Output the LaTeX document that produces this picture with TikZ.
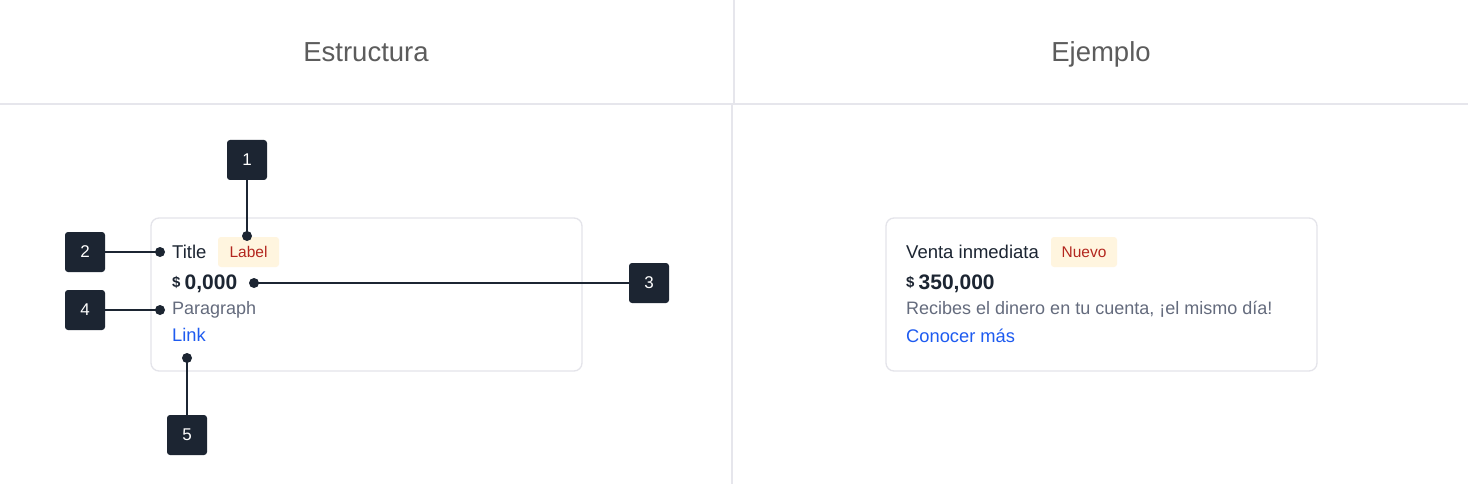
\documentclass[tikz,border=0pt]{standalone}
\usepackage{fontspec}
\setmainfont{Liberation Sans}
\definecolor{divider}{HTML}{E6E6EC}
\definecolor{cardline}{HTML}{E4E4EA}
\definecolor{head}{HTML}{5C5C5C}
\definecolor{ink}{HTML}{1C2532}
\definecolor{para}{HTML}{646B7D}
\definecolor{linkc}{HTML}{1E5BF0}
\definecolor{badgefill}{HTML}{FFF5DF}
\definecolor{badgetext}{HTML}{B3261E}
\begin{document}
\begin{tikzpicture}[x=1pt,y=-1pt,
  divline/.style={draw=divider,line width=2pt},
  card/.style={draw=cardline,line width=1.3pt,rounded corners=8pt},
  header/.style={font=\fontsize{27.5}{32}\selectfont,text=head,inner sep=0pt,anchor=base},
  ttl/.style={font=\fontsize{18.5}{22}\selectfont,text=ink,anchor=base west,inner sep=0pt},
  badge/.style={fill=badgefill,rounded corners=3pt,text=badgetext,font=\fontsize{15.5}{18}\selectfont,minimum height=30pt,inner xsep=0pt,inner ysep=0pt},
  dollar/.style={font=\fontsize{15}{17}\selectfont\bfseries,text=ink,anchor=base west,inner sep=0pt},
  amount/.style={font=\fontsize{21}{24}\selectfont\bfseries,text=ink,anchor=base west,inner sep=0pt},
  para/.style={font=\fontsize{18}{22}\selectfont,text=para,anchor=base west,inner sep=0pt},
  lnk/.style={font=\fontsize{18.3}{22}\selectfont,text=linkc,anchor=base west,inner sep=0pt},
  marker/.style={fill=ink,rounded corners=3pt,minimum width=40pt,minimum height=40pt,text=white,font=\fontsize{17}{20}\selectfont,inner sep=0pt},
  dot/.style={circle,fill=ink,minimum size=10pt,inner sep=0pt},
  conn/.style={draw=ink,line width=1.6pt}]
\useasboundingbox (0,0) rectangle (1468,484);
\fill[white] (0,0) rectangle (1468,484);
% dividers
\coordinate (vt0) at (734,0);
\coordinate (vt1) at (734,104);
\coordinate (hl0) at (0,104);
\coordinate (hl1) at (1468,104);
\coordinate (vb0) at (732,104);
\coordinate (vb1) at (732,484);
\draw[divline] (vt0) -- (vt1);
\draw[divline] (hl0) -- (hl1);
\draw[divline] (vb0) -- (vb1);
% headers
\node[header] (h1) at (366,62) {Estructura};
\node[header] (h2) at (1101,62) {Ejemplo};
% left card
\draw[card] (151,218) rectangle (582,371);
\node[ttl] (t1) at (172,258) {Title};
\node[badge,minimum width=61pt] (b1) at (248.5,252) {Label};
\node[dollar] (s1) at (172,287) {\$};
\node[amount] (a1) at (184.5,289) {0,000};
\node[para] (p1) at (172,314) {Paragraph};
\node[lnk] (l1) at (172,341) {Link};
% right card
\draw[card] (886,218) rectangle (1317,371);
\node[ttl] (t2) at (906,258) {Venta inmediata};
\node[badge,minimum width=66pt] (b2) at (1084,252) {Nuevo};
\node[dollar] (s2) at (906,287) {\$};
\node[amount] (a2) at (918.5,289) {350,000};
\node[para] (p2) at (906,314) {Recibes el dinero en tu cuenta, ¡el mismo día!};
\node[lnk] (l2) at (906,342) {Conocer más};
% markers
\node[marker] (m1) at (247,160) {1};
\node[marker] (m2) at (85,252) {2};
\node[marker] (m3) at (649,283) {3};
\node[marker] (m4) at (85,310) {4};
\node[marker] (m5) at (187,435) {5};
\node[dot] (d1) at (247,236) {};
\node[dot] (d2) at (160,252) {};
\node[dot] (d3) at (254,283) {};
\node[dot] (d4) at (160,310) {};
\node[dot] (d5) at (187,358) {};
\draw[conn] (m1.south) -- (d1.center);
\draw[conn] (m2.east) -- (d2.center);
\draw[conn] (m3.west) -- (d3.center);
\draw[conn] (m4.east) -- (d4.center);
\draw[conn] (m5.north) -- (d5.center);
\end{tikzpicture}
\end{document}
